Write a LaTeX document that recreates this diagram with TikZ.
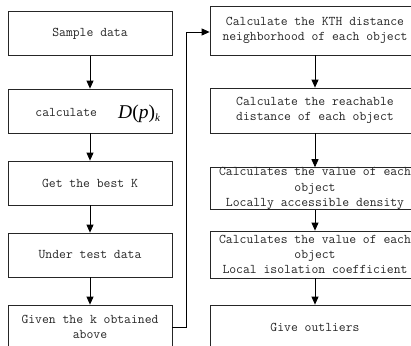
\documentclass[tikz,border=0pt]{standalone}
\usepackage{fontspec}
\newfontfamily\mathlike{Liberation Serif}
\usetikzlibrary{arrows.meta}
\tikzset{
  box/.style={draw=black!85, line width=0.8pt, rectangle, inner sep=0pt, align=center, text=black!85,
    font=\ttfamily\fontsize{13.3}{15.2}\selectfont},
  lbox/.style={box, minimum width=164pt, minimum height=44pt},
  rbox/.style={box, minimum width=210pt},
  arr/.style={draw=black, line width=0.8pt, -{Triangle[length=8pt,width=7pt]}},
}
\begin{document}
\begin{tikzpicture}[x=1pt,y=-1pt]
\useasboundingbox (0,0) rectangle (411,345);
\clip (0,0) rectangle (411,345);
\fill[white] (0,0) rectangle (411,345);
% left column
\node[lbox] (l1) at (90,33.5) {Sample data};
\node[lbox] (l2) at (90,111) {};
\node[box, draw=none, anchor=base west] (l2a) at (35,116) {calculate};
\node[anchor=base west, inner sep=0pt, text=black] (l2b) at (118,118)
  {\fontsize{19.5}{19.5}\selectfont\mathlike\textit{D}(\textit{p})\raisebox{-3pt}{\fontsize{11}{11}\selectfont\textit{k}}};
\node[lbox] (l3) at (90,183) {Get the best K};
\node[lbox] (l4) at (90,255) {Under test data};
\node[lbox] (l5) at (90,327) {Given the k obtained\\above};
% right column
\node[rbox, minimum height=49pt] (r1) at (315,30.5) {Calculate the KTH distance\\neighborhood of each object};
\node[rbox, minimum height=45pt] (r2) at (315,110.5) {Calculate the reachable\\distance of each object};
\node[rbox, minimum height=33pt] (r3) at (315,188.5) {Calculates the value of each\\object\\Locally accessible density};
\node[rbox, minimum height=47pt] (r4) at (315,254.5) {Calculates the value of each\\object\\Local isolation coefficient};
\node[rbox, minimum height=44pt] (r5) at (315,327) {Give outliers};
% arrows
\draw[arr] (l1) -- (l2);
\draw[arr] (l2) -- (l3);
\draw[arr] (l3) -- (l4);
\draw[arr] (l4) -- (l5);
\draw[arr] (r1) -- (r2);
\draw[arr] (r2) -- (r3);
\draw[arr] (r3) -- (r4);
\draw[arr] (r4) -- (r5);
\coordinate (c1) at (186,32);
\draw[arr] (l5.east) -| (c1) -- (r1.west |- c1);
\end{tikzpicture}
\end{document}
